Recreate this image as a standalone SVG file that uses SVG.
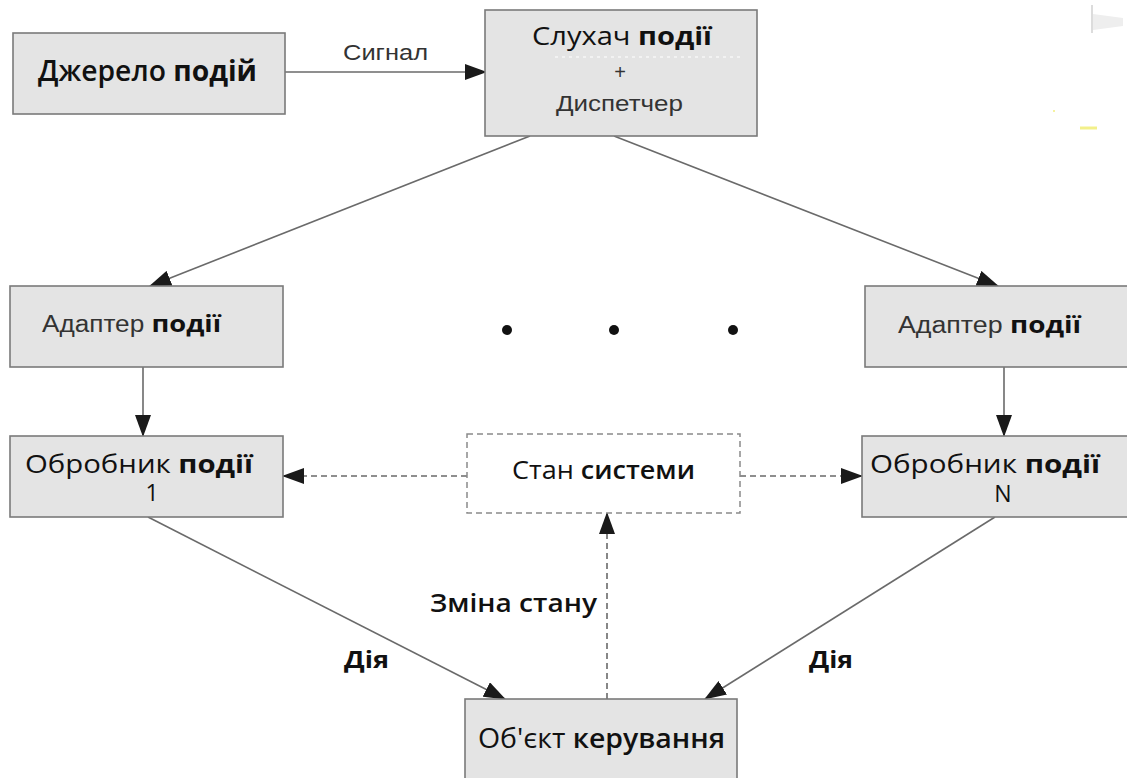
<svg xmlns="http://www.w3.org/2000/svg" width="1127" height="778" viewBox="0 0 1127 778">
<style>
.box{fill:#e4e4e4;stroke:#7a7a7a;stroke-width:1.6}
.dbox{fill:#ffffff;stroke:#8a8a8a;stroke-width:1.5;stroke-dasharray:6 4}
.ln{stroke:#6a6a6a;stroke-width:1.6;fill:none}
.dl{stroke:#6a6a6a;stroke-width:1.6;fill:none;stroke-dasharray:6 4}
.os{font-family:'Open Sans','DejaVu Sans',sans-serif;fill:#111}
.ar{font-family:'Liberation Sans',Arial,sans-serif;fill:#333}
.b{font-weight:700}
.sb{font-weight:600}
</style>
<defs>
<marker id="ah" markerUnits="userSpaceOnUse" markerWidth="22" markerHeight="16" refX="21" refY="8" orient="auto">
<path d="M0,0 L22,8 L0,16 z" fill="#1a1a1a"/>
</marker>
</defs>
<rect width="1127" height="778" fill="#ffffff"/>
<g id="artifacts">
<line x1="1092" y1="5" x2="1092" y2="33" stroke="#dcdcdc" stroke-width="2"/>
<path d="M1093,14 L1123,18 L1123,26 L1093,30 z" fill="#eeeeee"/>
<line x1="1080" y1="128" x2="1097" y2="128" stroke="#f3f08a" stroke-width="3"/>
<rect x="1053" y="110" width="2" height="2" fill="#f5f2a0"/>
</g>
<g id="connectors">
<line class="ln" x1="285" y1="72" x2="486" y2="72" marker-end="url(#ah)"/>
<line class="ln" x1="530" y1="136" x2="150" y2="286" marker-end="url(#ah)"/>
<line class="ln" x1="614" y1="136" x2="998" y2="286" marker-end="url(#ah)"/>
<line class="ln" x1="143" y1="367" x2="143" y2="436" marker-end="url(#ah)"/>
<line class="ln" x1="1004" y1="367" x2="1004" y2="436" marker-end="url(#ah)"/>
<line class="dl" x1="467" y1="476" x2="283" y2="476" marker-end="url(#ah)"/>
<line class="dl" x1="740" y1="476" x2="862" y2="476" marker-end="url(#ah)"/>
<line class="ln" x1="148" y1="517" x2="505" y2="699" marker-end="url(#ah)"/>
<line class="ln" x1="995" y1="517" x2="705" y2="699" marker-end="url(#ah)"/>
<line class="dl" x1="607" y1="699" x2="607" y2="513" marker-end="url(#ah)"/>
<text class="ar" x="343" y="60" font-size="22" textLength="85" lengthAdjust="spacingAndGlyphs">Сигнал</text>
<text class="os sb" x="430" y="612" font-size="25" textLength="167" lengthAdjust="spacingAndGlyphs">Зміна стану</text>
<text class="os b" x="344" y="668" font-size="23" textLength="45" lengthAdjust="spacingAndGlyphs">Дія</text>
<text class="os b" x="809" y="668" font-size="23" textLength="44" lengthAdjust="spacingAndGlyphs">Дія</text>
</g>
<g id="dots">
<circle cx="507" cy="330" r="5" fill="#111"/>
<circle cx="614" cy="330" r="5" fill="#111"/>
<circle cx="733" cy="330" r="5" fill="#111"/>
</g>
<g id="source">
<rect class="box" x="13" y="33" width="272" height="81"/>
<text class="os" x="38" y="81" font-size="28" textLength="219" lengthAdjust="spacingAndGlyphs"><tspan class="sb">Джерело</tspan> <tspan class="b">подій</tspan></text>
</g>
<g id="listener">
<rect class="box" x="485" y="10" width="272" height="126"/>
<line x1="555" y1="57" x2="740" y2="57" stroke="#f6f6f6" stroke-width="1.5" stroke-dasharray="3 4"/>
<text class="os" x="532" y="45" font-size="25" textLength="180" lengthAdjust="spacingAndGlyphs">Слухач <tspan class="b">події</tspan></text>
<text class="ar" x="620" y="79" font-size="20" text-anchor="middle" fill="#222">+</text>
<text class="ar" x="556" y="111" font-size="22" textLength="127" lengthAdjust="spacingAndGlyphs" fill="#222">Диспетчер</text>
</g>
<g id="adapter1">
<rect class="box" x="10" y="286" width="273" height="81"/>
<text x="42" y="332" textLength="179" lengthAdjust="spacingAndGlyphs"><tspan class="ar" font-size="23">Адаптер </tspan><tspan class="os b" font-size="24">події</tspan></text>
</g>
<g id="adapterN">
<rect class="box" x="865" y="286" width="270" height="81"/>
<text x="898" y="333" textLength="183" lengthAdjust="spacingAndGlyphs"><tspan class="ar" font-size="23">Адаптер  </tspan><tspan class="os b" font-size="24">події</tspan></text>
</g>
<g id="handler1">
<rect class="box" x="10" y="436" width="273" height="81"/>
<text class="os" x="25" y="473" font-size="25" textLength="228" lengthAdjust="spacingAndGlyphs">Обробник  <tspan class="b">події</tspan></text>
<text class="os" x="152" y="501" font-size="23" text-anchor="middle">1</text>
</g>
<g id="handlerN">
<rect class="box" x="862" y="436" width="273" height="81"/>
<text class="os" x="870" y="473" font-size="25" textLength="230" lengthAdjust="spacingAndGlyphs">Обробник  <tspan class="b">події</tspan></text>
<text class="os" x="1003" y="502" font-size="23" text-anchor="middle">N</text>
</g>
<g id="state">
<rect class="dbox" x="467" y="434" width="273" height="79"/>
<text class="os" x="512" y="479" font-size="25" textLength="183" lengthAdjust="spacingAndGlyphs">Стан <tspan class="sb">системи</tspan></text>
</g>
<g id="object">
<rect class="box" x="465" y="699" width="272" height="90"/>
<text class="os" x="478" y="748" font-size="27" textLength="247" lengthAdjust="spacingAndGlyphs">Об'єкт <tspan class="sb">керування</tspan></text>
</g>
</svg>
